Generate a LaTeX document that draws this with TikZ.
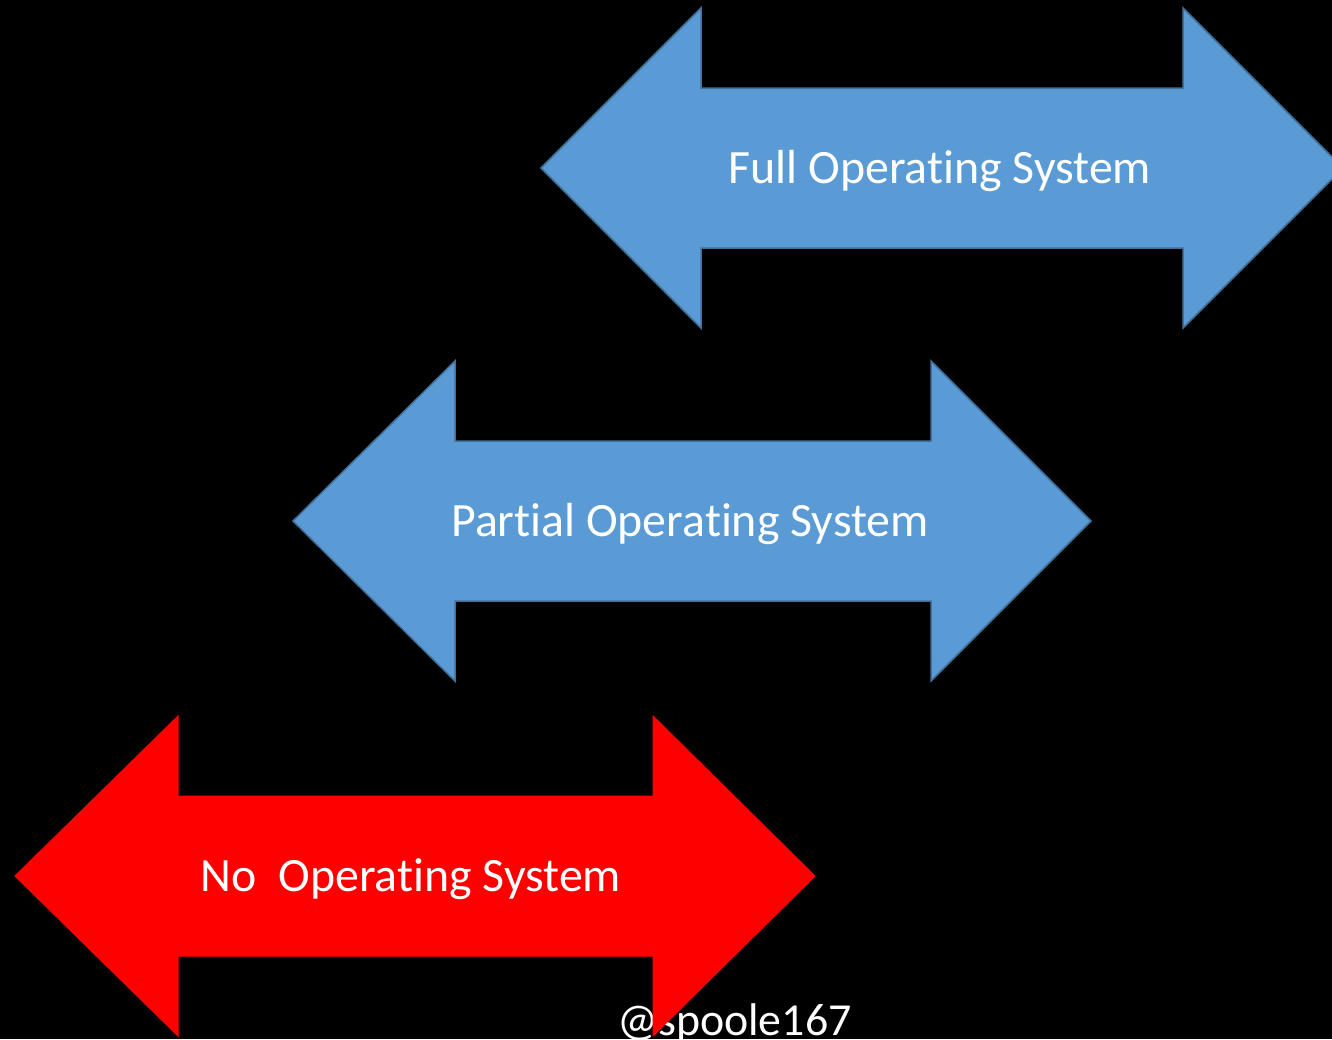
\documentclass[tikz,border=0pt]{standalone}
\usepackage{fontspec}
\setmainfont[Ligatures=NoCommon]{Carlito}
\definecolor{arrowblue}{HTML}{5B9BD5}
\definecolor{arrowedge}{HTML}{41719C}
\definecolor{arrowred}{HTML}{FF0000}
\tikzset{
  bluearrow/.style={fill=arrowblue, draw=arrowedge, line width=1.5bp, line join=miter},
  redarrow/.style={fill=arrowred, draw=arrowred, line width=1bp, line join=miter},
  label/.style={text=white, font=\fontsize{48}{56}\selectfont, inner sep=0pt, anchor=center},
}
% double-headed block arrow: #1 left tip x, #2 left head back x, #3 right head back x,
% #4 right tip x, #5 centre y ; head half-height 160, shaft half-height 80
\newcommand\blockarrow[6]{%
  \path[#6] (#1,#5) -- (#2,#5-160) -- (#2,#5-80) -- (#3,#5-80) -- (#3,#5-160)
    -- (#4,#5) -- (#3,#5+160) -- (#3,#5+80) -- (#2,#5+80) -- (#2,#5+160) -- cycle;}
\begin{document}
\begin{tikzpicture}[x=1bp,y=-1bp]
  \fill[black] (0,0) rectangle (1332,1039);
  \useasboundingbox (0,0) rectangle (1332,1039);
  \clip (0,0) rectangle (1332,1039);

  \blockarrow{541}{701}{1183}{1343}{168}{bluearrow}
  \node[label] (full) at (940,171) {Full Operating System};

  \blockarrow{293}{455}{931}{1091}{521}{bluearrow}
  \node[label] (partial) at (690,524) {Partial Operating System};

  \node[text=white, font=\fontsize{46}{54}\selectfont, inner sep=0pt, anchor=base west]
    (handle) at (617,1035) {@spoole167};

  \blockarrow{15}{178}{653}{815}{876}{redarrow}
  \node[label] (none) at (411,879) {No\ \ Operating System};
\end{tikzpicture}
\end{document}
